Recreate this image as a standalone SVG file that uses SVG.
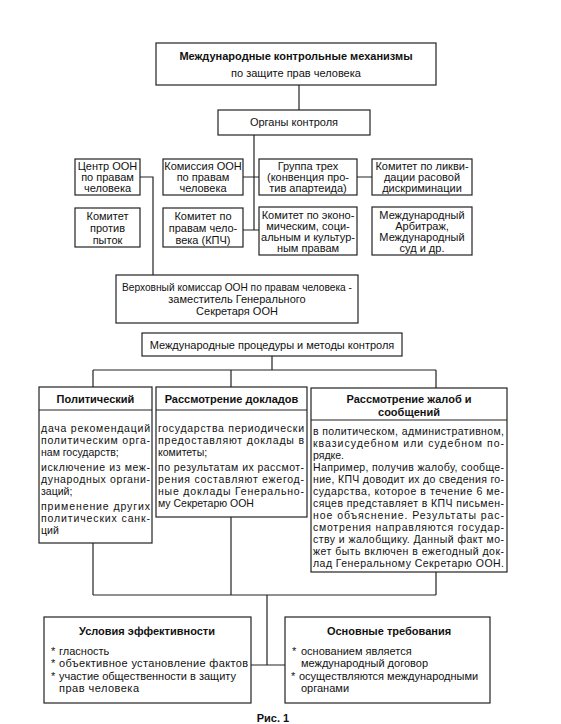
<svg xmlns="http://www.w3.org/2000/svg" width="561" height="724" viewBox="0 0 561 724">
<style>
.bx{fill:#fff;stroke:#222;stroke-width:1.2}
.ln{fill:none;stroke:#222;stroke-width:1.2}
text{font-family:"Liberation Sans",Arial,sans-serif;font-size:11px;fill:#111}
.c{text-anchor:middle}
.b{font-weight:bold}
.s{font-size:10.5px}
</style>
<rect width="561" height="724" fill="#fff"/>
<g id="connectors">
<path class="ln" d="M299 85V110"/>
<path class="ln" d="M254 135V230M243 177H259M243 230H259M357 177H372"/>
<path class="ln" d="M140 177H153V275"/>
<path class="ln" d="M272 356V370M93 370H436M93 370V387M231 370V387M436 370V388"/>
<path class="ln" d="M93 543V595M231 517V595M436 572V595M93 595H436M267 595V665M251 665H285"/>
</g>
<g id="n-top">
<rect class="bx" x="156" y="43" width="280" height="42"/>
<text class="c b" x="296" y="60">Международные контрольные механизмы</text>
<text class="c" x="296" y="77">по защите прав человека</text>
</g>
<g id="n-organs">
<rect class="bx" x="218" y="110" width="152" height="25"/>
<text class="c" x="294" y="126">Органы контроля</text>
</g>
<g id="n-center">
<rect class="bx" x="75" y="159" width="65" height="36"/>
<text class="c" x="107.5" y="170">Центр ООН</text>
<text class="c" x="107.5" y="181">по правам</text>
<text class="c" x="107.5" y="192">человека</text>
</g>
<g id="n-commission">
<rect class="bx" x="163" y="159" width="80" height="36"/>
<text class="c" x="203" y="170">Комиссия ООН</text>
<text class="c" x="203" y="181">по правам</text>
<text class="c" x="203" y="192">человека</text>
</g>
<g id="n-group3">
<rect class="bx" x="259" y="159" width="98" height="36"/>
<text class="c" x="308" y="170">Группа трех</text>
<text class="c" x="308" y="181">(конвенция про-</text>
<text class="c" x="308" y="192">тив апартеида)</text>
</g>
<g id="n-racial">
<rect class="bx" x="372" y="159" width="100" height="36"/>
<text class="c" x="422" y="170">Комитет по ликви-</text>
<text class="c" x="422" y="181">дации расовой</text>
<text class="c" x="422" y="192">дискриминации</text>
</g>
<g id="n-torture">
<rect class="bx" x="75" y="208" width="65" height="39"/>
<text class="c" x="107.5" y="219.5">Комитет</text>
<text class="c" x="107.5" y="231.5">против</text>
<text class="c" x="107.5" y="243.5">пыток</text>
</g>
<g id="n-hrc">
<rect class="bx" x="163" y="208" width="80" height="39"/>
<text class="c" x="203" y="219.5">Комитет по</text>
<text class="c" x="203" y="231.5">правам чело-</text>
<text class="c" x="203" y="243.5">века (КПЧ)</text>
</g>
<g id="n-escr">
<rect class="bx" x="259" y="207" width="98" height="48"/>
<text class="c" x="308" y="218.5">Комитет по эконо-</text>
<text class="c" x="308" y="229.5">мическим, соци-</text>
<text class="c" x="308" y="240.5">альным и культур-</text>
<text class="c" x="308" y="251.5">ным правам</text>
</g>
<g id="n-court">
<rect class="bx" x="372" y="207" width="100" height="48"/>
<text class="c" x="422" y="218.5">Международный</text>
<text class="c" x="422" y="229.5">Арбитраж,</text>
<text class="c" x="422" y="240.5">Международный</text>
<text class="c" x="422" y="251.5">суд и др.</text>
</g>
<g id="n-hc">
<rect class="bx" x="116" y="275" width="242" height="48"/>
<text x="122" y="291" textLength="230" lengthAdjust="spacingAndGlyphs">Верховный комиссар ООН по правам человека -</text>
<text class="c" x="237" y="303">заместитель Генерального</text>
<text class="c" x="237" y="315">Секретаря ООН</text>
</g>
<g id="n-proc">
<rect class="bx" x="142" y="333" width="260" height="23"/>
<text class="c" x="272" y="348.5">Международные процедуры и методы контроля</text>
</g>
<g id="n-polit">
<rect class="bx" x="39" y="387" width="113" height="156"/>
<path class="ln" d="M39 410H152"/>
<text class="c b" x="95.5" y="403">Политический</text>
<text class="s" x="41" y="432" textLength="109" lengthAdjust="spacing">дача рекомендаций</text>
<text class="s" x="41" y="444" textLength="109" lengthAdjust="spacing">политическим орга-</text>
<text class="s" x="41" y="456">нам государств;</text>
<text class="s" x="41" y="471" textLength="109" lengthAdjust="spacing">исключение из меж-</text>
<text class="s" x="41" y="483" textLength="109" lengthAdjust="spacing">дународных органи-</text>
<text class="s" x="41" y="495">заций;</text>
<text class="s" x="41" y="510" textLength="109" lengthAdjust="spacing">применение других</text>
<text class="s" x="41" y="522" textLength="109" lengthAdjust="spacing">политических санк-</text>
<text class="s" x="41" y="534">ций</text>
</g>
<g id="n-reports">
<rect class="bx" x="156" y="387" width="151" height="130"/>
<path class="ln" d="M156 410H307"/>
<text class="c b" x="231.5" y="403">Рассмотрение  докладов</text>
<text class="s" x="158" y="432" textLength="146" lengthAdjust="spacing">государства периодически</text>
<text class="s" x="158" y="444" textLength="146" lengthAdjust="spacing">предоставляют доклады в</text>
<text class="s" x="158" y="456">комитеты;</text>
<text class="s" x="158" y="471" textLength="146" lengthAdjust="spacing">по результатам их рассмот-</text>
<text class="s" x="158" y="483" textLength="146" lengthAdjust="spacing">рения составляют ежегод-</text>
<text class="s" x="158" y="495" textLength="146" lengthAdjust="spacing">ные доклады Генерально-</text>
<text class="s" x="158" y="507">му Секретарю ООН</text>
</g>
<g id="n-complaints">
<rect class="bx" x="311" y="388" width="196" height="184"/>
<path class="ln" d="M311 420H507"/>
<text class="c b" x="409" y="403">Рассмотрение  жалоб  и</text>
<text class="c b" x="409" y="416">сообщений</text>
<text class="s" x="313" y="435" textLength="191" lengthAdjust="spacing">в политическом, административном,</text>
<text class="s" x="313" y="447" textLength="191" lengthAdjust="spacing">квазисудебном или судебном по-</text>
<text class="s" x="313" y="459">рядке.</text>
<text class="s" x="313" y="471" textLength="191" lengthAdjust="spacing">Например, получив жалобу, сообще-</text>
<text class="s" x="313" y="483" textLength="191" lengthAdjust="spacing">ние, КПЧ доводит их до сведения го-</text>
<text class="s" x="313" y="495" textLength="191" lengthAdjust="spacing">сударства, которое в течение 6 ме-</text>
<text class="s" x="313" y="507" textLength="191" lengthAdjust="spacing">сяцев представляет в КПЧ письмен-</text>
<text class="s" x="313" y="519" textLength="191" lengthAdjust="spacing">ное объяснение. Результаты рас-</text>
<text class="s" x="313" y="531" textLength="191" lengthAdjust="spacing">смотрения направляются государ-</text>
<text class="s" x="313" y="543" textLength="191" lengthAdjust="spacing">ству и жалобщику. Данный факт мо-</text>
<text class="s" x="313" y="555" textLength="191" lengthAdjust="spacing">жет быть включен в ежегодный док-</text>
<text class="s" x="313" y="567" textLength="191" lengthAdjust="spacing">лад Генеральному Секретарю ООН.</text>
</g>
<g id="n-conditions">
<rect class="bx" x="44" y="617" width="207" height="86"/>
<text class="c b" x="147" y="635">Условия  эффективности</text>
<text x="51" y="655">*</text><text x="59" y="655">гласность</text>
<text x="51" y="667">*</text><text x="59" y="667" textLength="189" lengthAdjust="spacing">объективное установление фактов</text>
<text x="51" y="680">*</text><text x="59" y="680">участие общественности в защиту</text>
<text x="59" y="692" textLength="80" lengthAdjust="spacing">прав  человека</text>
</g>
<g id="n-requirements">
<rect class="bx" x="285" y="617" width="205" height="86"/>
<text class="c b" x="389" y="635">Основные  требования</text>
<text x="292" y="655">*</text><text x="301" y="655">основанием является</text>
<text x="301" y="667">международный  договор</text>
<text x="291" y="680">*</text><text x="299" y="680">осуществляются международными</text>
<text x="301" y="692">органами</text>
</g>
<text class="c b" x="273" y="722">Рис.  1</text>
</svg>
